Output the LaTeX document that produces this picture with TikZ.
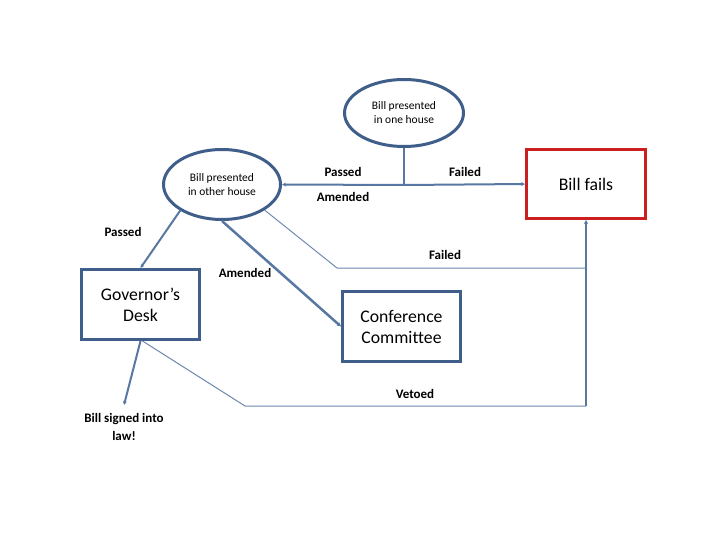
\documentclass[tikz,border=0pt]{standalone}
\usepackage{fontspec}
\setmainfont[Ligatures=NoCommon]{Carlito}
\usetikzlibrary{shapes.geometric,arrows.meta}
\definecolor{navy}{HTML}{3F5F8A}
\definecolor{conn}{HTML}{5878A3}
\definecolor{thinc}{HTML}{6E88AE}
\definecolor{redb}{HTML}{CC1F1F}
\begin{document}
\begin{tikzpicture}[x=1pt,y=-1pt,
  house/.style={ellipse,draw=navy,line width=3pt,inner sep=0pt,align=center,
    font=\fontsize{11.5}{14}\selectfont},
  stagebox/.style={rectangle,draw=navy,line width=3pt,inner sep=0pt,align=center,
    minimum width=118pt,minimum height=70pt,font=\fontsize{17.7}{21}\selectfont},
  failbox/.style={rectangle,draw=redb,line width=3pt,inner sep=0pt,align=center,
    minimum width=119pt,minimum height=69pt,font=\fontsize{17.7}{21}\selectfont},
  lbl/.style={inner sep=0pt,font=\bfseries\fontsize{13}{18}\selectfont,align=center},
  conline/.style={draw=conn,line width=2pt},
  thinline/.style={draw=thinc,line width=1pt},
  arr/.style={-{Stealth[length=4pt,width=4pt]}}
]
\useasboundingbox (0,0) rectangle (720,540);
\fill[white] (0,0) rectangle (720,540);

% nodes
\node[house,minimum width=119pt,minimum height=67pt] (one) at (404,113) {Bill presented\\in one house};
\node[house,minimum width=117pt,minimum height=70pt] (other) at (222,184.5) {Bill presented\\in other house};
\node[failbox] (fails) at (586,184) {Bill fails};
\node[stagebox] (gov) at (140.5,304.5) {Governor’s\\Desk};
\node[stagebox] (conf) at (401.5,326.5) {Conference\\Committee};

% coordinates
\coordinate (j) at (404,185);
\coordinate (fbend) at (337,268);
\coordinate (fjoin) at (586,268);
\coordinate (vbend) at (245,406);
\coordinate (vcorner) at (586,406);
\coordinate (lawtip) at (124,405);

% connectors
\draw[conline] (one.south) -- (j);
\draw[conline,arr] (j) -- (other.east);
\draw[conline,arr] (j) -- (fails.west);
\draw[conline,arr] (other.212) -- (gov.north);
\draw[conline,line width=2.5pt,arr] (other.south) -- (conf.west);
\draw[thinline] (other.-31) -- (fbend) -- (fjoin);
\draw[thinline] (gov.south) ++(2,0) -- (vbend) -- (vcorner);
\draw[conline,line width=1.5pt,arr] (vcorner) -- (fails.south);
\draw[conline,arr] (gov.south) -- (lawtip);

% labels
\node[lbl] (lpassed1) at (343,172) {Passed};
\node[lbl] (lamended1) at (343,197) {Amended};
\node[lbl] (lfailed1) at (465,172) {Failed};
\node[lbl] (lpassed2) at (123,232) {Passed};
\node[lbl] (lamended2) at (245,273) {Amended};
\node[lbl] (lfailed2) at (445,255) {Failed};
\node[lbl] (lvetoed) at (415,394) {Vetoed};
\node[lbl] (law) at (124,427) {Bill signed into\\law!};
\end{tikzpicture}
\end{document}
